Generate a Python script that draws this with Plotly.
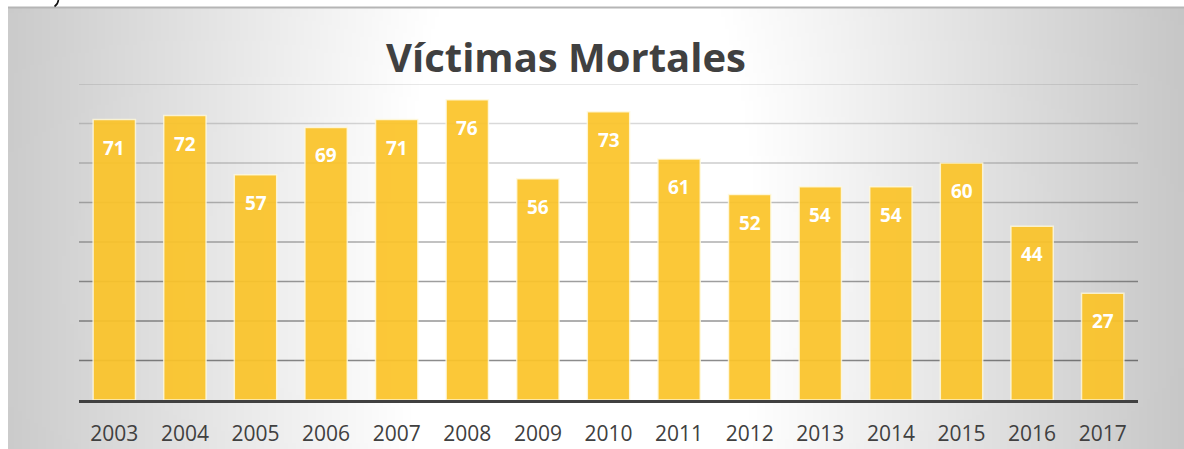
import base64
import struct
import zlib

import numpy as np
import plotly.graph_objects as go

# ---------------- data ----------------
years = ["2003", "2004", "2005", "2006", "2007", "2008", "2009", "2010",
         "2011", "2012", "2013", "2014", "2015", "2016", "2017"]
victims = [71, 72, 57, 69, 71, 76, 56, 73, 61, 52, 54, 54, 60, 44, 27]
grid_values = [10, 20, 30, 40, 50, 60, 70, 80]
title_text = "Víctimas Mortales"

# ---------------- geometry ----------------
W, H = 1184, 449
L, R, T, B = 79, 46, 84, 49
plot_w = W - L - R
plot_h = H - T - B
panel_x0, panel_y0 = 8, 7


def px_to_paper_x(px):
    return (px - L) / plot_w


def py_to_paper_y(py):
    return (H - B - py) / plot_h


# ---------------- radial gradient background (PNG) ----------------
def make_png(arr):
    h, w = arr.shape
    raw = b"".join(b"\x00" + arr[j].astype(np.uint8).tobytes() for j in range(h))

    def chunk(tag, data):
        c = struct.pack(">I", len(data)) + tag + data
        return c + struct.pack(">I", zlib.crc32(tag + data) & 0xFFFFFFFF)

    png = b"\x89PNG\r\n\x1a\n"
    png += chunk(b"IHDR", struct.pack(">IIBBBBB", w, h, 8, 0, 0, 0, 0))
    png += chunk(b"IDAT", zlib.compress(raw, 9))
    png += chunk(b"IEND", b"")
    return "data:image/png;base64," + base64.b64encode(png).decode()


pw, ph = W - panel_x0, H - panel_y0
iw, ih = 296, 111
xs = panel_x0 + (np.arange(iw) + 0.5) * pw / iw
ys = panel_y0 + (np.arange(ih) + 0.5) * ph / ih
X, Y = np.meshgrid(xs, ys)
cx, cy = 580, 280
r = np.sqrt((X - cx) ** 2 + ((Y - cy) / 2.5) ** 2)
val = 255 - 0.13 * np.clip(r - 180, 0, None)
val = np.clip(val, 185, 255)
bg_src = make_png(val)

# ---------------- figure ----------------
fig = go.Figure()
fig.add_trace(go.Bar(
    x=years,
    y=victims,
    marker=dict(color="#FBC42A", opacity=0.93,
                line=dict(color="rgba(255,250,225,0.85)", width=1.5)),
    width=0.6,
    hoverinfo="x+y",
))

# data labels inside the bar tops
for i, v in enumerate(victims):
    fig.add_annotation(
        x=i, y=v, xref="x", yref="y",
        text=f"<b>{v}</b>", showarrow=False,
        xanchor="center", yanchor="middle", yshift=-28,
        font=dict(family="Open Sans", size=19, color="#FFFFFF"),
    )

# gridlines (fading towards the top)
alphas = [0.45, 0.42, 0.38, 0.32, 0.26, 0.2, 0.15, 0.12]
for gv, a in zip(grid_values, alphas):
    fig.add_shape(type="line", xref="paper", yref="y",
                  x0=0, x1=1, y0=gv, y1=gv, layer="below",
                  line=dict(color=f"rgba(0,0,0,{a})", width=1.4))

# top border of the panel
fig.add_shape(type="line", xref="paper", yref="paper",
              x0=px_to_paper_x(panel_x0), x1=px_to_paper_x(W),
              y0=py_to_paper_y(panel_y0 + 0.5), y1=py_to_paper_y(panel_y0 + 0.5),
              layer="below", line=dict(color="#b5b5b5", width=2))

# small glyph fragment from the page above the chart (top-left)
p = [(58.5, -1), (58.3, 4), (54.5, 6.5)]
path = "M {:.5f} {:.5f} Q {:.5f} {:.5f} {:.5f} {:.5f}".format(
    px_to_paper_x(p[0][0]), py_to_paper_y(p[0][1]),
    px_to_paper_x(p[1][0]), py_to_paper_y(p[1][1]),
    px_to_paper_x(p[2][0]), py_to_paper_y(p[2][1]))
fig.add_shape(type="path", xref="paper", yref="paper", path=path,
              line=dict(color="#111111", width=1.6))

fig.add_layout_image(dict(
    source=bg_src, xref="paper", yref="paper",
    x=px_to_paper_x(panel_x0), y=py_to_paper_y(panel_y0),
    sizex=(W - panel_x0) / plot_w, sizey=(H - panel_y0) / plot_h,
    xanchor="left", yanchor="top", sizing="stretch", layer="below",
))

fig.update_layout(
    width=W, height=H,
    autosize=False,
    margin=dict(l=L, r=R, t=T, b=B, pad=0, autoexpand=False),
    paper_bgcolor="#FFFFFF",
    plot_bgcolor="rgba(0,0,0,0)",
    showlegend=False,
    bargap=0.4,
    title=dict(text=f"<b>{title_text}</b>", xref="container", yref="container",
               x=566 / W, y=1 - 58 / H, xanchor="center", yanchor="middle",
               font=dict(family="Open Sans", size=40, color="#404040")),
    xaxis=dict(
        type="category", range=[-0.5, len(years) - 0.5],
        automargin=False,
        showline=True, linecolor="#404040", linewidth=3,
        showgrid=False, zeroline=False, ticks="",
        tickfont=dict(family="Open Sans", size=21, color="#404040"),
        ticklabelstandoff=13,
    ),
    yaxis=dict(
        range=[0, 80], showgrid=False, zeroline=False, automargin=False,
        showticklabels=False, showline=False, ticks="",
    ),
)

fig.write_html(
    "out.html",
    config={"displayModeBar": False},
    post_script="document.body.style.margin='0';document.body.style.overflow='hidden';",
)
